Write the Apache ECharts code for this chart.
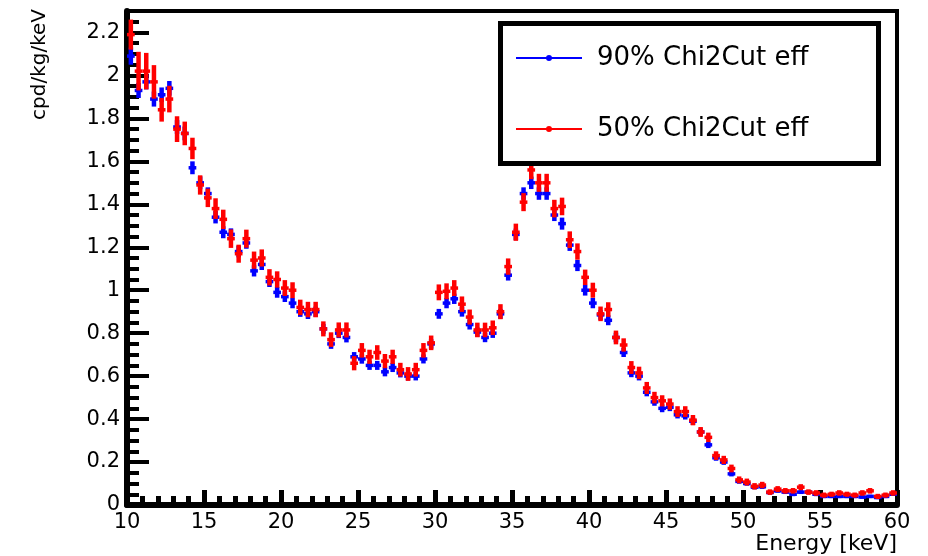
<!DOCTYPE html>
<html><head><meta charset="utf-8">
<script src="https://cdn.jsdelivr.net/npm/echarts@6/dist/echarts.min.js"></script>
<style>html,body{margin:0;padding:0;background:#fff}#c{width:928px;height:556px}</style>
</head><body><div id="c"></div>
<script>
// Bin centres (keV), 0.5 keV wide bins
const energy = [
  10.25,10.75,11.25,11.75,12.25,12.75,13.25,13.75,14.25,14.75,
  15.25,15.75,16.25,16.75,17.25,17.75,18.25,18.75,19.25,19.75,
  20.25,20.75,21.25,21.75,22.25,22.75,23.25,23.75,24.25,24.75,
  25.25,25.75,26.25,26.75,27.25,27.75,28.25,28.75,29.25,29.75,
  30.25,30.75,31.25,31.75,32.25,32.75,33.25,33.75,34.25,34.75,
  35.25,35.75,36.25,36.75,37.25,37.75,38.25,38.75,39.25,39.75,
  40.25,40.75,41.25,41.75,42.25,42.75,43.25,43.75,44.25,44.75,
  45.25,45.75,46.25,46.75,47.25,47.75,48.25,48.75,49.25,49.75,
  50.25,50.75,51.25,51.75,52.25,52.75,53.25,53.75,54.25,54.75,
  55.25,55.75,56.25,56.75,57.25,57.75,58.25,58.75,59.25,59.75
];
// 90% Chi2Cut efficiency (blue)
const eff90 = [
  2.09,1.93,1.97,1.89,1.91,1.94,1.76,1.73,1.57,1.50,
  1.45,1.34,1.27,1.26,1.18,1.22,1.09,1.12,1.04,0.99,
  0.97,0.94,0.90,0.89,0.90,0.82,0.75,0.80,0.78,0.69,
  0.68,0.65,0.65,0.62,0.64,0.615,0.60,0.60,0.68,0.75,
  0.89,0.94,0.96,0.90,0.84,0.805,0.78,0.80,0.89,1.07,
  1.26,1.45,1.50,1.45,1.45,1.35,1.31,1.21,1.115,1.00,
  0.94,0.885,0.86,0.78,0.71,0.615,0.60,0.525,0.48,0.45,
  0.455,0.42,0.415,0.39,0.34,0.28,0.22,0.20,0.145,0.11,
  0.10,0.083,0.085,0.058,0.066,0.06,0.05,0.06,0.06,0.05,
  0.04,0.04,0.04,0.04,0.04,0.037,0.04,0.035,0.04,0.05
];
const err90 = [
  0.04,0.035,0.035,0.035,0.034,0.034,0.032,0.032,0.03,0.03,
  0.029,0.029,0.028,0.028,0.027,0.027,0.026,0.026,0.025,0.025,
  0.025,0.024,0.024,0.024,0.024,0.023,0.023,0.023,0.023,0.022,
  0.022,0.021,0.021,0.021,0.021,0.021,0.02,0.02,0.021,0.022,
  0.023,0.024,0.024,0.023,0.023,0.022,0.022,0.022,0.023,0.025,
  0.027,0.029,0.029,0.029,0.029,0.028,0.028,0.027,0.026,0.025,
  0.024,0.023,0.023,0.022,0.021,0.02,0.02,0.019,0.018,0.018,
  0.018,0.017,0.017,0.017,0.016,0.015,0.014,0.013,0.012,0.011,
  0.01,0.01,0.01,0.009,0.009,0.009,0.009,0.009,0.009,0.009,
  0.008,0.008,0.008,0.008,0.008,0.008,0.008,0.008,0.008,0.008
];
// 50% Chi2Cut efficiency (red)
const eff50 = [
  2.19,2.02,2.02,1.97,1.84,1.89,1.75,1.73,1.66,1.49,
  1.43,1.38,1.33,1.24,1.17,1.24,1.14,1.15,1.06,1.05,
  1.01,1.00,0.92,0.91,0.91,0.82,0.77,0.815,0.815,0.66,
  0.72,0.69,0.71,0.67,0.69,0.63,0.61,0.63,0.72,0.755,
  0.99,0.995,1.01,0.935,0.875,0.815,0.815,0.825,0.90,1.11,
  1.27,1.41,1.56,1.50,1.50,1.38,1.39,1.235,1.18,1.06,
  1.00,0.89,0.91,0.78,0.745,0.64,0.615,0.545,0.50,0.485,
  0.47,0.435,0.435,0.395,0.34,0.315,0.23,0.21,0.17,0.117,
  0.107,0.087,0.093,0.06,0.074,0.066,0.066,0.083,0.06,0.056,
  0.046,0.05,0.056,0.05,0.046,0.056,0.066,0.04,0.046,0.056
];
const err50 = [
  0.07,0.09,0.085,0.078,0.055,0.062,0.06,0.055,0.05,0.045,
  0.043,0.048,0.045,0.043,0.042,0.042,0.04,0.04,0.038,0.038,
  0.037,0.037,0.036,0.036,0.036,0.035,0.034,0.035,0.035,0.033,
  0.034,0.033,0.034,0.033,0.033,0.032,0.032,0.032,0.034,0.034,
  0.037,0.037,0.037,0.036,0.035,0.034,0.034,0.034,0.035,0.038,
  0.04,0.042,0.043,0.042,0.042,0.041,0.041,0.039,0.038,0.036,
  0.035,0.034,0.034,0.032,0.031,0.03,0.029,0.028,0.027,0.026,
  0.026,0.025,0.025,0.024,0.023,0.022,0.02,0.019,0.018,0.016,
  0.016,0.015,0.015,0.013,0.014,0.013,0.013,0.014,0.013,0.013,
  0.012,0.012,0.013,0.012,0.012,0.013,0.013,0.012,0.012,0.013
];
const seriesNames = ['90% Chi2Cut eff', '50% Chi2Cut eff'];
const binHalfWidth = 0.25;

const FONT = 'DejaVu Sans';

function toData(vals, errs) {
  return energy.map((e, i) => [e, vals[i], errs[i]]);
}

function renderItem(params, api) {
  const x = api.value(0), y = api.value(1), e = api.value(2);
  const c = api.coord([x, y]);
  const lo = api.coord([x, y - e]);
  const hi = api.coord([x, y + e]);
  const l = api.coord([x - binHalfWidth, y]);
  const r = api.coord([x + binHalfWidth, y]);
  const color = api.visual('color');
  return {
    type: 'group',
    children: [
      { type: 'line', shape: { x1: c[0], y1: hi[1], x2: c[0], y2: lo[1] }, style: { stroke: color, lineWidth: 4.5 } },
      { type: 'line', shape: { x1: l[0], y1: c[1], x2: r[0], y2: c[1] }, style: { stroke: color, lineWidth: 3.5 } }
    ]
  };
}

const chart = echarts.init(document.getElementById('c'));
chart.setOption({
  animation: false,
  backgroundColor: '#fff',
  grid: { left: 127, right: 31, top: 11, bottom: 51, show: true, borderColor: '#000', borderWidth: 4, backgroundColor: 'transparent' },
  xAxis: {
    type: 'value', min: 10, max: 60, interval: 5,
    name: 'Energy [keV]', nameLocation: 'end', nameGap: 0,
    nameTextStyle: { fontFamily: FONT, fontSize: 22, color: '#000', align: 'right', verticalAlign: 'top', padding: [28, 0, 0, 0] },
    axisLine: { show: true, onZero: false, lineStyle: { color: '#000', width: 6 } },
    axisTick: { show: true, inside: true, length: 15, lineStyle: { color: '#000', width: 5 } },
    minorTick: { show: true, splitNumber: 5, length: 9, lineStyle: { color: '#000', width: 5 } },
    splitLine: { show: false },
    axisLabel: { margin: 7, fontFamily: FONT, fontSize: 21, color: '#000' }
  },
  yAxis: {
    type: 'value', min: 0, max: 2.3, interval: 0.2,
    name: 'cpd/kg/keV', nameLocation: 'end', nameRotate: 90, nameGap: 2,
    nameTextStyle: { fontFamily: FONT, fontSize: 20, color: '#000', align: 'right', verticalAlign: 'bottom', padding: [0, 0, 77, 0] },
    axisLine: { show: true, lineStyle: { color: '#000', width: 6 } },
    axisTick: { show: true, inside: true, length: 22, lineStyle: { color: '#000', width: 4 } },
    minorTick: { show: true, splitNumber: 4, length: 12, lineStyle: { color: '#000', width: 4 } },
    splitLine: { show: false },
    axisLabel: { showMaxLabel: false, margin: 7, fontFamily: FONT, fontSize: 21, color: '#000' }
  },
  graphic: [
    { type: 'rect', z: 100, shape: { x: 500.5, y: 23.5, width: 378, height: 140 }, style: { fill: '#fff', stroke: '#000', lineWidth: 5 } }
  ],
  legend: {
    z: 200, orient: 'vertical', left: 516, top: 45, padding: 0,
    itemWidth: 66, itemHeight: 6, itemGap: 45, selectedMode: false,
    icon: 'path://M0,2L66,2L66,4L0,4Z M30,3A3,3 0 1,1 36,3A3,3 0 1,1 30,3Z',
    textStyle: { fontFamily: FONT, fontSize: 26, lineHeight: 26, color: '#000', padding: [0, 0, 0, 10] },
    data: seriesNames
  },
  series: [
    { name: seriesNames[0], type: 'custom', renderItem, clip: true, itemStyle: { color: '#0000ff' },
      encode: { x: 0, y: 1 }, data: toData(eff90, err90) },
    { name: seriesNames[1], type: 'custom', renderItem, clip: true, itemStyle: { color: '#ff0000' },
      encode: { x: 0, y: 1 }, data: toData(eff50, err50) }
  ]
});
</script></body></html>
